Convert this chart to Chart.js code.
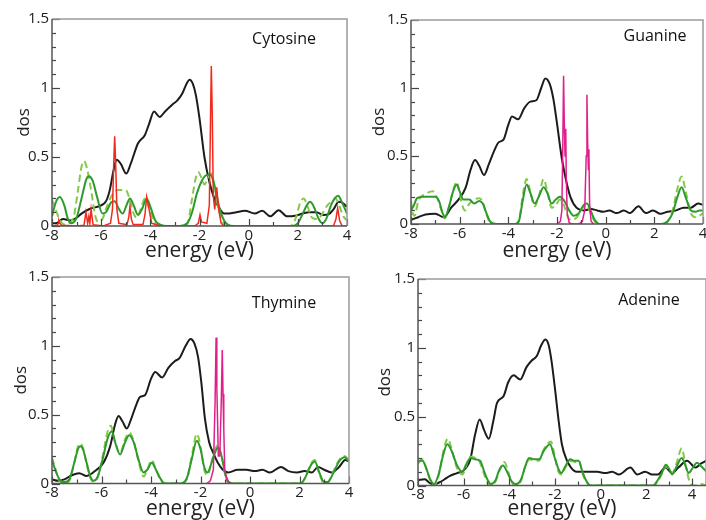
<!DOCTYPE html>
<html>
<head>
<meta charset="utf-8">
<script src="https://cdn.jsdelivr.net/npm/chart.js@4.4.0/dist/chart.umd.min.js"></script>
<style>
  html, body { margin: 0; padding: 0; background: #fff; }
  #wrap { position: relative; width: 706px; height: 520px; overflow: hidden; }
  #wrap canvas { position: absolute; left: 0; top: 0; }
</style>
</head>
<body>
<div id="wrap">
  <canvas id="cyto" width="706" height="520"></canvas>
  <canvas id="gua" width="706" height="520"></canvas>
  <canvas id="thy" width="706" height="520"></canvas>
  <canvas id="ade" width="706" height="520"></canvas>
</div>
<script>
// [energy (eV), dos] pairs

// --- Cytosine ---
const cytoTotal = [[-8.0,0.02],[-7.85,0.02],[-7.55,0.05],[-7.25,0.04],[-7.0,0.06],[-6.8,0.09],[-6.45,0.125],[-6.0,0.15],[-5.8,0.18],[-5.65,0.26],[-5.5,0.4],[-5.37,0.48],[-5.2,0.45],[-4.98,0.38],[-4.8,0.45],[-4.5,0.6],[-4.22,0.66],[-4.05,0.74],[-3.85,0.83],[-3.62,0.79],[-3.4,0.83],[-3.1,0.88],[-2.9,0.91],[-2.7,0.96],[-2.5,1.04],[-2.4,1.06],[-2.27,1.03],[-2.15,0.95],[-2.0,0.78],[-1.8,0.5],[-1.6,0.32],[-1.4,0.2],[-1.2,0.13],[-1.0,0.09],[-0.8,0.09],[-0.5,0.1],[-0.15,0.11],[0.25,0.09],[0.55,0.11],[0.88,0.07],[1.22,0.115],[1.56,0.07],[1.9,0.075],[2.2,0.09],[2.45,0.1],[2.75,0.1],[3.05,0.08],[3.25,0.085],[3.45,0.12],[3.66,0.175],[3.8,0.17],[4.0,0.14]];
const cytoUp = [[-8.0,0.07],[-7.85,0.17],[-7.68,0.21],[-7.5,0.15],[-7.35,0.05],[-7.2,0.02],[-7.0,0.06],[-6.8,0.2],[-6.6,0.34],[-6.5,0.36],[-6.35,0.33],[-6.15,0.2],[-5.95,0.09],[-5.8,0.1],[-5.6,0.17],[-5.45,0.18],[-5.3,0.13],[-5.12,0.09],[-4.97,0.15],[-4.83,0.2],[-4.68,0.15],[-4.5,0.08],[-4.32,0.13],[-4.15,0.2],[-4.0,0.14],[-3.8,0.04],[-3.6,0.01],[-3.3,0.0],[-2.8,0.0],[-2.5,0.02],[-2.3,0.1],[-2.1,0.24],[-1.9,0.33],[-1.7,0.37],[-1.55,0.37],[-1.4,0.3],[-1.2,0.14],[-1.0,0.04],[-0.85,0.01],[-0.6,0.0],[1.8,0.0],[2.0,0.02],[2.2,0.09],[2.4,0.16],[2.5,0.175],[2.65,0.14],[2.85,0.05],[3.0,0.02],[3.15,0.05],[3.35,0.15],[3.5,0.2],[3.64,0.22],[3.8,0.17],[4.0,0.09]];
const cytoDown = [[-8.0,0.19],[-7.85,0.12],[-7.7,0.05],[-7.5,0.01],[-7.3,0.02],[-7.1,0.08],[-6.95,0.25],[-6.8,0.43],[-6.7,0.47],[-6.58,0.42],[-6.4,0.25],[-6.25,0.08],[-6.12,0.03],[-5.95,0.05],[-5.75,0.15],[-5.5,0.24],[-5.3,0.26],[-5.0,0.26],[-4.85,0.2],[-4.7,0.1],[-4.56,0.06],[-4.4,0.12],[-4.22,0.2],[-4.05,0.13],[-3.85,0.03],[-3.6,0.0],[-2.6,0.0],[-2.45,0.04],[-2.3,0.2],[-2.15,0.35],[-2.05,0.39],[-1.92,0.35],[-1.8,0.3],[-1.65,0.35],[-1.52,0.38],[-1.4,0.3],[-1.25,0.14],[-1.08,0.04],[-0.9,0.0],[1.7,0.0],[1.9,0.05],[2.1,0.17],[2.24,0.2],[2.38,0.15],[2.58,0.06],[2.8,0.05],[3.0,0.09],[3.2,0.15],[3.4,0.18],[3.53,0.2],[3.7,0.14],[3.85,0.07],[4.0,0.04]];
const cytoLocal = [[-8.0,0.0],[-7.8,0.005],[-7.74,0.02],[-7.72,0.04],[-7.68,0.02],[-7.62,0.005],[-7.0,0.0],[-6.7,0.005],[-6.62,0.1],[-6.55,0.02],[-6.5,0.07],[-6.46,0.02],[-6.41,0.12],[-6.33,0.01],[-5.9,0.0],[-5.62,0.02],[-5.54,0.12],[-5.49,0.45],[-5.45,0.65],[-5.41,0.45],[-5.36,0.12],[-5.28,0.02],[-4.95,0.01],[-4.88,0.06],[-4.83,0.14],[-4.77,0.05],[-4.7,0.01],[-4.3,0.01],[-4.22,0.08],[-4.15,0.21],[-4.05,0.12],[-3.95,0.02],[-3.6,0.0],[-2.2,0.0],[-2.05,0.02],[-1.98,0.08],[-1.92,0.03],[-1.7,0.02],[-1.6,0.15],[-1.55,0.8],[-1.52,1.16],[-1.48,0.8],[-1.44,0.22],[-1.38,0.12],[-1.3,0.28],[-1.22,0.12],[-1.12,0.02],[-1.0,0.0],[3.45,0.0],[3.55,0.05],[3.62,0.13],[3.7,0.04],[3.8,0.0],[4.0,0.0]];

// --- Guanine ---
const guaTotal = [[-8.0,0.03],[-7.7,0.05],[-7.4,0.07],[-7.0,0.075],[-6.65,0.05],[-6.35,0.12],[-6.0,0.19],[-5.75,0.27],[-5.55,0.4],[-5.37,0.47],[-5.2,0.43],[-5.0,0.36],[-4.8,0.44],[-4.6,0.53],[-4.4,0.6],[-4.2,0.62],[-4.0,0.73],[-3.85,0.79],[-3.6,0.77],[-3.35,0.85],[-3.1,0.9],[-2.85,0.91],[-2.65,1.0],[-2.48,1.07],[-2.3,1.03],[-2.15,0.92],[-2.0,0.74],[-1.8,0.48],[-1.6,0.3],[-1.45,0.2],[-1.2,0.12],[-0.9,0.1],[-0.6,0.11],[-0.35,0.1],[-0.1,0.09],[0.15,0.1],[0.45,0.08],[0.75,0.1],[1.0,0.08],[1.35,0.13],[1.65,0.08],[1.95,0.1],[2.25,0.075],[2.55,0.09],[2.9,0.1],[3.2,0.12],[3.5,0.12],[3.8,0.15],[4.0,0.14]];
const guaUp = [[-8.0,0.1],[-7.9,0.13],[-7.75,0.19],[-7.5,0.2],[-7.2,0.2],[-7.0,0.2],[-6.85,0.17],[-6.7,0.08],[-6.6,0.05],[-6.45,0.12],[-6.25,0.25],[-6.12,0.29],[-6.0,0.24],[-5.85,0.18],[-5.6,0.18],[-5.4,0.15],[-5.2,0.17],[-5.05,0.15],[-4.9,0.08],[-4.75,0.02],[-4.5,0.0],[-3.7,0.0],[-3.55,0.03],[-3.4,0.18],[-3.25,0.29],[-3.1,0.23],[-2.92,0.15],[-2.75,0.2],[-2.55,0.27],[-2.4,0.23],[-2.22,0.15],[-2.05,0.18],[-1.88,0.2],[-1.7,0.17],[-1.5,0.1],[-1.32,0.06],[-1.1,0.08],[-0.9,0.14],[-0.77,0.15],[-0.6,0.09],[-0.45,0.03],[-0.25,0.0],[2.3,0.0],[2.55,0.02],[2.75,0.08],[2.95,0.2],[3.12,0.27],[3.3,0.19],[3.5,0.1],[3.7,0.09],[3.85,0.1],[4.0,0.1]];
const guaDown = [[-8.0,0.17],[-7.93,0.08],[-7.85,0.06],[-7.7,0.17],[-7.4,0.22],[-7.1,0.24],[-6.9,0.18],[-6.75,0.1],[-6.62,0.04],[-6.45,0.12],[-6.25,0.26],[-6.12,0.31],[-6.0,0.22],[-5.88,0.13],[-5.78,0.1],[-5.6,0.15],[-5.4,0.18],[-5.2,0.19],[-5.05,0.16],[-4.9,0.07],[-4.75,0.01],[-4.5,0.0],[-3.7,0.0],[-3.55,0.04],[-3.4,0.22],[-3.25,0.33],[-3.1,0.24],[-2.92,0.13],[-2.75,0.2],[-2.55,0.33],[-2.4,0.24],[-2.22,0.12],[-2.05,0.14],[-1.88,0.18],[-1.7,0.13],[-1.52,0.04],[-1.35,0.03],[-1.1,0.07],[-0.9,0.13],[-0.77,0.14],[-0.6,0.07],[-0.45,0.02],[-0.25,0.0],[2.3,0.0],[2.55,0.02],[2.75,0.1],[2.95,0.26],[3.12,0.35],[3.3,0.23],[3.5,0.08],[3.7,0.05],[3.85,0.06],[4.0,0.08]];
const guaLocal = [[-2.0,0.0],[-1.86,0.02],[-1.8,0.1],[-1.76,0.6],[-1.73,1.09],[-1.7,0.75],[-1.67,0.5],[-1.64,0.7],[-1.62,0.35],[-1.58,0.08],[-1.5,0.01],[-1.4,0.0],[-1.1,0.0],[-0.96,0.02],[-0.86,0.1],[-0.8,0.5],[-0.77,0.95],[-0.74,0.6],[-0.71,0.4],[-0.69,0.55],[-0.66,0.15],[-0.6,0.02],[-0.5,0.0]];

// --- Thymine ---
const thyTotal = [[-8.0,0.03],[-7.75,0.02],[-7.5,0.03],[-7.2,0.06],[-6.9,0.075],[-6.6,0.055],[-6.2,0.1],[-5.92,0.15],[-5.65,0.27],[-5.45,0.43],[-5.31,0.49],[-5.15,0.45],[-4.98,0.4],[-4.8,0.47],[-4.6,0.57],[-4.44,0.63],[-4.25,0.64],[-4.0,0.76],[-3.83,0.81],[-3.55,0.77],[-3.3,0.84],[-3.03,0.89],[-2.85,0.91],[-2.6,1.0],[-2.4,1.05],[-2.25,1.02],[-2.1,0.92],[-1.97,0.74],[-1.82,0.47],[-1.65,0.3],[-1.48,0.22],[-1.3,0.15],[-1.1,0.1],[-0.88,0.08],[-0.5,0.1],[-0.15,0.1],[0.2,0.09],[0.5,0.1],[0.8,0.08],[1.25,0.12],[1.55,0.09],[1.9,0.08],[2.2,0.09],[2.5,0.08],[2.75,0.12],[3.0,0.1],[3.3,0.08],[3.6,0.12],[3.85,0.17],[4.0,0.16]];
const thyUp = [[-8.0,0.17],[-7.85,0.09],[-7.7,0.03],[-7.5,0.01],[-7.3,0.03],[-7.1,0.15],[-6.95,0.25],[-6.86,0.27],[-6.75,0.25],[-6.6,0.15],[-6.45,0.05],[-6.32,0.02],[-6.15,0.05],[-5.95,0.18],[-5.75,0.33],[-5.58,0.38],[-5.45,0.3],[-5.25,0.21],[-5.05,0.3],[-4.88,0.35],[-4.7,0.3],[-4.5,0.17],[-4.3,0.08],[-4.15,0.1],[-3.97,0.15],[-3.8,0.1],[-3.6,0.03],[-3.45,0.0],[-2.8,0.0],[-2.55,0.04],[-2.35,0.18],[-2.15,0.31],[-2.0,0.25],[-1.85,0.12],[-1.72,0.08],[-1.5,0.18],[-1.3,0.26],[-1.15,0.2],[-1.0,0.07],[-0.85,0.01],[-0.6,0.0],[2.05,0.0],[2.25,0.05],[2.45,0.13],[2.62,0.16],[2.8,0.08],[3.0,0.01],[3.15,0.01],[3.35,0.07],[3.6,0.16],[3.82,0.19],[4.0,0.16]];
const thyDown = [[-8.0,0.19],[-7.85,0.1],[-7.7,0.02],[-7.5,0.0],[-7.3,0.02],[-7.1,0.15],[-6.95,0.27],[-6.86,0.29],[-6.75,0.26],[-6.6,0.14],[-6.45,0.04],[-6.32,0.01],[-6.15,0.05],[-5.95,0.2],[-5.75,0.38],[-5.62,0.42],[-5.48,0.32],[-5.25,0.22],[-5.05,0.32],[-4.88,0.37],[-4.72,0.32],[-4.5,0.16],[-4.3,0.05],[-4.15,0.1],[-3.97,0.17],[-3.8,0.1],[-3.6,0.02],[-3.45,0.0],[-2.8,0.0],[-2.55,0.03],[-2.35,0.2],[-2.15,0.36],[-2.0,0.27],[-1.85,0.1],[-1.72,0.06],[-1.5,0.19],[-1.3,0.28],[-1.15,0.2],[-1.0,0.06],[-0.85,0.0],[-0.6,0.0],[2.05,0.0],[2.25,0.05],[2.45,0.14],[2.62,0.17],[2.8,0.07],[3.0,0.0],[3.15,0.01],[3.35,0.08],[3.6,0.17],[3.82,0.2],[4.0,0.17]];
const thyLocal = [[-1.75,0.0],[-1.6,0.02],[-1.48,0.1],[-1.41,0.6],[-1.37,1.06],[-1.34,0.7],[-1.31,0.45],[-1.28,0.2],[-1.22,0.2],[-1.16,0.6],[-1.12,0.97],[-1.09,0.65],[-1.06,0.4],[-1.02,0.1],[-0.92,0.02],[-0.8,0.0]];

// --- Adenine ---
const adeTotal = [[-8.0,0.04],[-7.7,0.045],[-7.5,0.02],[-7.3,0.005],[-7.1,0.02],[-6.88,0.04],[-6.6,0.07],[-6.29,0.09],[-6.0,0.11],[-5.71,0.19],[-5.5,0.37],[-5.3,0.48],[-5.1,0.4],[-4.9,0.34],[-4.7,0.47],[-4.54,0.6],[-4.25,0.65],[-4.05,0.75],[-3.81,0.8],[-3.52,0.77],[-3.25,0.86],[-3.01,0.91],[-2.8,0.94],[-2.6,1.02],[-2.42,1.06],[-2.28,1.02],[-2.15,0.9],[-2.0,0.7],[-1.85,0.48],[-1.7,0.3],[-1.5,0.19],[-1.3,0.13],[-1.05,0.1],[-0.8,0.1],[-0.5,0.1],[-0.15,0.1],[0.2,0.09],[0.5,0.1],[0.8,0.08],[1.3,0.13],[1.6,0.08],[1.95,0.1],[2.25,0.08],[2.5,0.08],[2.83,0.13],[3.13,0.09],[3.4,0.13],[3.78,0.18],[4.15,0.13],[4.4,0.16],[4.63,0.18]];
const adeUp = [[-8.0,0.18],[-7.8,0.18],[-7.65,0.13],[-7.45,0.04],[-7.3,0.01],[-7.1,0.08],[-6.9,0.22],[-6.72,0.3],[-6.55,0.26],[-6.3,0.15],[-6.06,0.1],[-5.9,0.15],[-5.7,0.2],[-5.5,0.19],[-5.28,0.18],[-5.1,0.1],[-4.95,0.04],[-4.8,0.01],[-4.6,0.04],[-4.45,0.11],[-4.28,0.145],[-4.1,0.1],[-3.9,0.03],[-3.72,0.01],[-3.5,0.04],[-3.3,0.14],[-3.14,0.2],[-2.9,0.19],[-2.7,0.19],[-2.5,0.25],[-2.22,0.3],[-2.05,0.22],[-1.85,0.12],[-1.72,0.09],[-1.55,0.14],[-1.33,0.19],[-1.15,0.18],[-0.97,0.18],[-0.8,0.1],[-0.65,0.04],[-0.45,0.0],[2.3,0.0],[2.5,0.04],[2.7,0.1],[2.85,0.15],[3.0,0.12],[3.13,0.08],[3.3,0.13],[3.55,0.2],[3.7,0.15],[3.85,0.09],[4.0,0.12],[4.22,0.165],[4.4,0.14],[4.63,0.1]];
const adeDown = [[-8.0,0.16],[-7.8,0.19],[-7.65,0.13],[-7.45,0.03],[-7.3,0.0],[-7.1,0.07],[-6.9,0.24],[-6.7,0.34],[-6.55,0.28],[-6.3,0.13],[-6.05,0.08],[-5.9,0.14],[-5.7,0.21],[-5.5,0.2],[-5.3,0.17],[-5.1,0.08],[-4.95,0.02],[-4.82,0.0],[-4.6,0.03],[-4.4,0.12],[-4.22,0.17],[-4.05,0.1],[-3.88,0.02],[-3.72,0.0],[-3.5,0.03],[-3.3,0.14],[-3.12,0.19],[-2.9,0.18],[-2.7,0.18],[-2.5,0.26],[-2.18,0.32],[-2.02,0.22],[-1.85,0.1],[-1.72,0.08],[-1.55,0.13],[-1.3,0.18],[-1.12,0.17],[-0.95,0.18],[-0.8,0.09],[-0.65,0.03],[-0.45,0.0],[2.3,0.0],[2.5,0.03],[2.7,0.09],[2.85,0.14],[3.0,0.11],[3.13,0.09],[3.3,0.15],[3.55,0.27],[3.7,0.16],[3.85,0.05],[4.0,0.0],[4.2,0.0],[4.4,0.01],[4.63,0.0]];

const FONT = '"Open Sans", "Liberation Sans", sans-serif';
const C_TOTAL = '#1c1c1c';
const C_UP = '#2e9a2e';
const C_DOWN = '#86c84a';
const C_RED = '#f02a1e';
const C_PINK = '#e0208a';

// frame, inward tick marks and the molecule name
const framePlugin = {
  id: 'frame',
  afterDatasetsDraw(chart, args, opts) {
    const { ctx, chartArea: a, scales: { x, y } } = chart;
    ctx.save();
    ctx.strokeStyle = '#444';
    ctx.lineWidth = 1.2;
    y.ticks.forEach(t => {
      const py = Math.round(y.getPixelForValue(t.value)) + 0.5;
      const major = Math.abs(t.value * 2 - Math.round(t.value * 2)) < 1e-6;
      ctx.beginPath();
      ctx.moveTo(a.left, py);
      ctx.lineTo(a.left + (major ? 8 : 4), py);
      ctx.stroke();
    });
    x.ticks.forEach(t => {
      if (Math.abs(t.value - Math.round(t.value)) > 1e-6) return;
      const px = Math.round(x.getPixelForValue(t.value)) + 0.5;
      const major = Math.round(t.value) % 2 === 0;
      ctx.beginPath();
      ctx.moveTo(px, a.bottom);
      ctx.lineTo(px, a.bottom - (major ? 7 : 4));
      ctx.stroke();
    });
    ctx.lineWidth = 1.5;
    ctx.strokeStyle = '#9a9a9a';
    ctx.beginPath();
    ctx.moveTo(a.left, a.top);
    ctx.lineTo(a.right, a.top);
    ctx.lineTo(a.right, a.bottom);
    ctx.stroke();
    ctx.strokeStyle = '#555';
    ctx.beginPath();
    ctx.moveTo(a.left, a.top);
    ctx.lineTo(a.left, a.bottom);
    ctx.lineTo(a.right, a.bottom);
    ctx.stroke();
    ctx.fillStyle = '#111';
    ctx.font = '16px ' + FONT;
    ctx.textAlign = 'center';
    ctx.textBaseline = 'middle';
    ctx.fillText(opts.name, opts.x, opts.y);
    ctx.restore();
  }
};

function curve(points, color, dash) {
  return {
    data: points.map(([x, y]) => ({ x, y })),
    borderColor: color, borderWidth: 2, borderDash: dash || [],
    pointRadius: 0, fill: false, cubicInterpolationMode: 'monotone'
  };
}
function spikes(points, color) {
  return {
    data: points.map(([x, y]) => ({ x, y })),
    borderColor: color, borderWidth: 1.5,
    pointRadius: 0, fill: false, tension: 0
  };
}

function makePanel(id, p, datasets) {
  const TITLE = 21, DOS = 17;
  new Chart(document.getElementById(id), {
    type: 'line',
    data: { datasets },
    plugins: [framePlugin],
    options: {
      responsive: false,
      animation: false,
      events: [],
      layout: {
        padding: {
          left: p.dosX - DOS / 2,
          top: p.top,
          right: 706 - p.right,
          bottom: Math.max(0, 520 - (p.titleY + TITLE / 2))
        }
      },
      plugins: {
        legend: { display: false },
        tooltip: { enabled: false },
        frame: { name: p.name, x: p.nameX, y: p.nameY }
      },
      scales: {
        x: {
          type: 'linear', min: -8, max: p.xMax,
          grid: { display: false, drawTicks: false }, border: { display: false },
          ticks: {
            stepSize: 1, includeBounds: false, autoSkip: false, maxRotation: 0, padding: 2,
            color: '#222', font: { family: FONT, size: 15, lineHeight: 1 },
            callback: v => (Math.abs(v % 2) < 1e-6 ? String(v) : '')
          },
          title: {
            display: true, text: 'energy (eV)', color: '#222', padding: 0,
            font: { family: FONT, size: TITLE, lineHeight: 1 }
          },
          afterFit: s => {
            s.height = p.titleY + TITLE / 2 - p.bottom;
            s.paddingLeft = 0; s.paddingRight = 0;
          }
        },
        y: {
          min: 0, max: 1.5,
          grid: { display: false, drawTicks: false }, border: { display: false },
          ticks: {
            stepSize: 0.1, autoSkip: false, padding: 3,
            color: '#222', font: { family: FONT, size: 15 },
            callback: v => (Math.abs(v * 2 - Math.round(v * 2)) < 1e-6 ? String(Math.round(v * 10) / 10) : '')
          },
          title: {
            display: true, text: 'dos', color: '#222', padding: 0,
            font: { family: FONT, size: DOS, lineHeight: 1 }
          },
          afterFit: s => {
            s.width = p.left - (p.dosX - DOS / 2);
            s.paddingTop = 0; s.paddingBottom = 0;
          }
        }
      }
    }
  });
}

document.fonts.load('16px "Open Sans"').finally(() => {
  makePanel('cyto',
    { name: 'Cytosine', left: 52, top: 19, right: 347, bottom: 226, xMax: 4, dosX: 24.5, titleY: 251, nameX: 284, nameY: 39 },
    [spikes(cytoLocal, C_RED), curve(cytoUp, C_UP), curve(cytoDown, C_DOWN, [7, 4]), curve(cytoTotal, C_TOTAL)]);
  makePanel('gua',
    { name: 'Guanine', left: 411, top: 20, right: 703, bottom: 224, xMax: 4, dosX: 379, titleY: 251, nameX: 655, nameY: 36 },
    [spikes(guaLocal, C_PINK), curve(guaUp, C_UP), curve(guaDown, C_DOWN, [7, 4]), curve(guaTotal, C_TOTAL)]);
  makePanel('thy',
    { name: 'Thymine', left: 52, top: 277, right: 349, bottom: 484, xMax: 4, dosX: 21, titleY: 510, nameX: 284, nameY: 303 },
    [spikes(thyLocal, C_PINK), curve(thyUp, C_UP), curve(thyDown, C_DOWN, [7, 4]), curve(thyTotal, C_TOTAL)]);
  makePanel('ade',
    { name: 'Adenine', left: 418, top: 279, right: 706, bottom: 486, xMax: 4.61, dosX: 385.5, titleY: 510, nameX: 649, nameY: 300 },
    [curve(adeUp, C_UP), curve(adeDown, C_DOWN, [7, 4]), curve(adeTotal, C_TOTAL)]);
});
</script>
</body>
</html>
